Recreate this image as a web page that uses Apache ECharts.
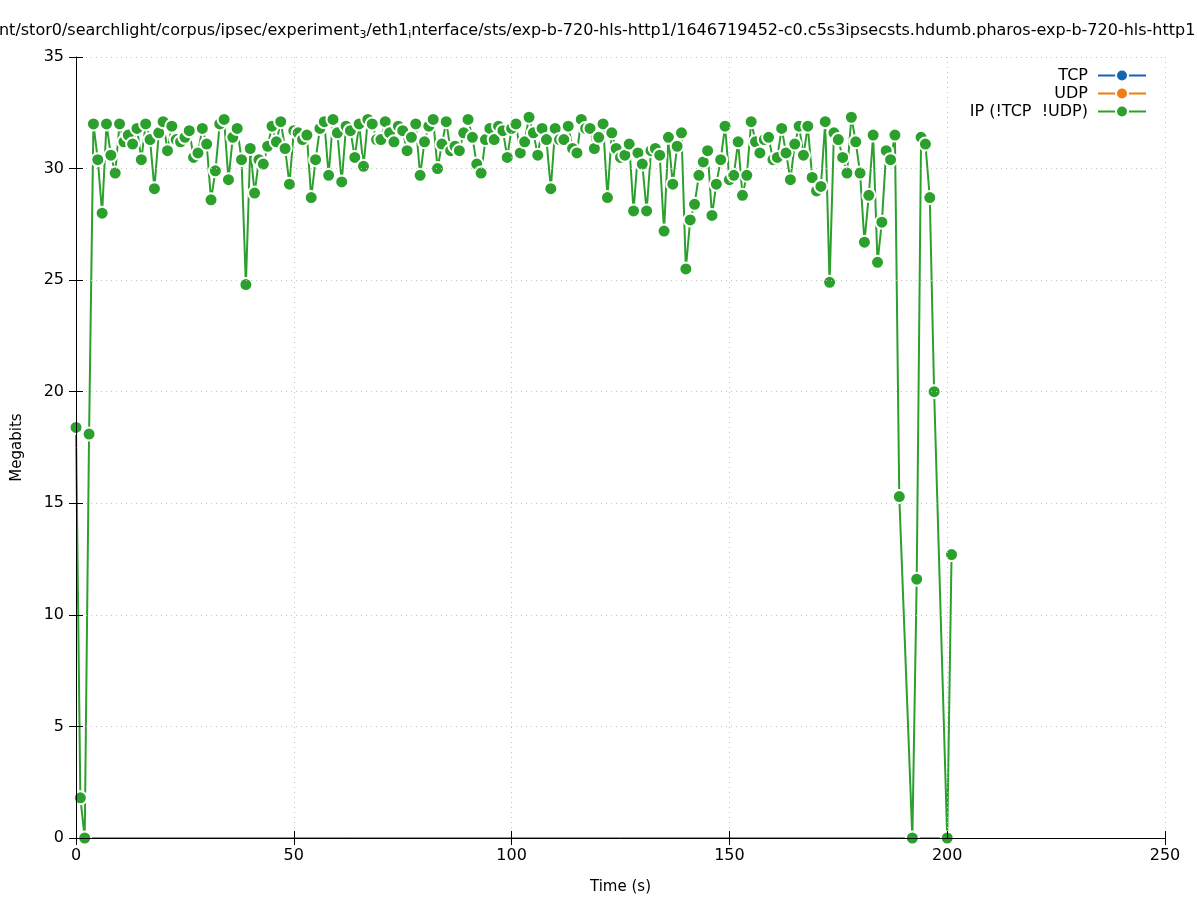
<!DOCTYPE html>
<html>
<head>
<meta charset="utf-8">
<script src="https://cdn.jsdelivr.net/npm/echarts@6/dist/echarts.min.js"></script>
<style>html,body{margin:0;padding:0;background:#fff;}#c{width:1197px;height:900px;}</style>
</head>
<body>
<div id="c"></div>
<script>
// seconds 0..201 — index of each value is the time (s); null = no sample
const ipValues = [
18.4,1.8,0,18.1,32.0,30.4,28.0,32.0,30.6,29.8,
32.0,31.2,31.5,31.1,31.8,30.4,32.0,31.3,29.1,31.6,
32.1,30.8,31.9,31.3,31.2,31.4,31.7,30.5,30.7,31.8,
31.1,28.6,29.9,32.0,32.2,29.5,31.4,31.8,30.4,24.8,
30.9,28.9,30.4,30.2,31.0,31.9,31.2,32.1,30.9,29.3,
31.7,31.6,31.3,31.5,28.7,30.4,31.8,32.1,29.7,32.2,
31.6,29.4,31.9,31.7,30.5,32.0,30.1,32.2,32.0,31.3,
31.3,32.1,31.6,31.2,31.9,31.7,30.8,31.4,32.0,29.7,
31.2,31.9,32.2,30.0,31.1,32.1,30.8,31.0,30.8,31.6,
32.2,31.4,30.2,29.8,31.3,31.8,31.3,31.9,31.7,30.5,
31.8,32.0,30.7,31.2,32.3,31.6,30.6,31.8,31.3,29.1,
31.8,31.3,31.3,31.9,30.9,30.7,32.2,31.8,31.8,30.9,
31.4,32.0,28.7,31.6,30.9,30.5,30.6,31.1,28.1,30.7,
30.2,28.1,30.8,30.9,30.6,27.2,31.4,29.3,31.0,31.6,
25.5,27.7,28.4,29.7,30.3,30.8,27.9,29.3,30.4,31.9,
29.5,29.7,31.2,28.8,29.7,32.1,31.2,30.7,31.3,31.4,
30.4,30.5,31.8,30.7,29.5,31.1,31.9,30.6,31.9,29.6,
29.0,29.2,32.1,24.9,31.6,31.3,30.5,29.8,32.3,31.2,
29.8,26.7,28.8,31.5,25.8,27.6,30.8,30.4,31.5,15.3,
null,null,0,11.6,31.4,31.1,28.7,20.0,null,null,
0,12.7
];
const tcpValues = [
0,0,0,0,0,0,0,0,0,0, 0,0,0,0,0,0,0,0,0,0, 0,0,0,0,0,0,0,0,0,0, 0,0,0,0,0,0,0,0,0,0,
0,0,0,0,0,0,0,0,0,0, 0,0,0,0,0,0,0,0,0,0, 0,0,0,0,0,0,0,0,0,0, 0,0,0,0,0,0,0,0,0,0,
0,0,0,0,0,0,0,0,0,0, 0,0,0,0,0,0,0,0,0,0, 0,0,0,0,0,0,0,0,0,0, 0,0,0,0,0,0,0,0,0,0,
0,0,0,0,0,0,0,0,0,0, 0,0,0,0,0,0,0,0,0,0, 0,0,0,0,0,0,0,0,0,0, 0,0,0,0,0,0,0,0,0,0,
0,0,0,0,0,0,0,0,0,0, 0,0,0,0,0,0,0,0,0,0, 0,0,0,0,0,0,0,0,0,0, 0,0,0,0,0,0,0,0,0,0,
0,0
];
const udpValues = [
0,0,0,0,0,0,0,0,0,0, 0,0,0,0,0,0,0,0,0,0, 0,0,0,0,0,0,0,0,0,0, 0,0,0,0,0,0,0,0,0,0,
0,0,0,0,0,0,0,0,0,0, 0,0,0,0,0,0,0,0,0,0, 0,0,0,0,0,0,0,0,0,0, 0,0,0,0,0,0,0,0,0,0,
0,0,0,0,0,0,0,0,0,0, 0,0,0,0,0,0,0,0,0,0, 0,0,0,0,0,0,0,0,0,0, 0,0,0,0,0,0,0,0,0,0,
0,0,0,0,0,0,0,0,0,0, 0,0,0,0,0,0,0,0,0,0, 0,0,0,0,0,0,0,0,0,0, 0,0,0,0,0,0,0,0,0,0,
0,0,0,0,0,0,0,0,0,0, 0,0,0,0,0,0,0,0,0,0, 0,0,0,0,0,0,0,0,0,0, 0,0,0,0,0,0,0,0,0,0,
0,0
];
const seriesNames = ['TCP', 'UDP', 'IP (!TCP  !UDP)'];
const xTicks = [0, 50, 100, 150, 200, 250];
const yTicks = [0, 5, 10, 15, 20, 25, 30, 35];

const pairs = arr => arr.map((v, i) => [i, v]);
const FONT = 'DejaVu Sans';
const colors = ['#1565b5', '#f07d10', '#2ca02c'];

const chart = echarts.init(document.getElementById('c'), null, {renderer: 'canvas'});
const gridLine = {show: true, lineStyle: {color: '#c4c4c4', type: [1, 4], width: 1}};
const tickIn = {show: true, inside: true, length: 7, lineStyle: {color: '#000', width: 1}};

function mkSeries(name, data, color, showSym, z) {
  return {
    name, type: 'line', data,
    xAxisIndex: 0, yAxisIndex: 0,
    symbol: 'circle', symbolSize: 13, showSymbol: showSym,
    connectNulls: true,
    lineStyle: {color, width: 2},
    itemStyle: {color, borderColor: '#fff', borderWidth: 2},
    emphasis: {disabled: true},
    animation: false, z, clip: false
  };
}

chart.setOption({
  animation: false,
  backgroundColor: '#fff',
  textStyle: {fontFamily: FONT},
  grid: {left: 76, right: 32, top: 57, bottom: 62, containLabel: false},
  graphic: [{
    type: 'text', left: -22, top: 23,
    style: {
      text: '/mnt/stor0/searchlight/corpus/ipsec/experiment{s|3}/eth1{s|i}nterface/sts/exp-b-720-hls-http1/1646719452-c0.c5s3ipsecsts.hdumb.pharos-exp-b-720-hls-http1.pcap',
      font: '16px "DejaVu Sans"', fill: '#000',
      rich: {s: {fontSize: 11, fontFamily: FONT, padding: [9, 0, 0, 0], fill: '#000', verticalAlign: 'bottom'}}
    }
  }],
  legend: {
    orient: 'vertical', right: 45, top: 62, align: 'right',
    itemWidth: 48, itemHeight: 15, itemGap: 1,
    textStyle: {fontFamily: FONT, fontSize: 16, color: '#000', padding: [0, 5, 0, 0], lineHeight: 17},
    selectedMode: false,
    data: seriesNames
  },
  xAxis: [{
    type: 'value', min: xTicks[0], max: xTicks[xTicks.length - 1], interval: 50,
    name: 'Time (s)', nameLocation: 'middle', nameGap: 42,
    nameTextStyle: {fontFamily: FONT, fontSize: 15, color: '#000'},
    axisLine: {show: true, onZero: false, lineStyle: {color: '#000', width: 1}},
    axisTick: tickIn,
    axisLabel: {fontFamily: FONT, fontSize: 16, color: '#000', margin: 10},
    splitLine: gridLine, z: 5
  }, {
    type: 'value', position: 'top', min: xTicks[0], max: xTicks[xTicks.length - 1], interval: 50,
    axisLine: {show: false}, axisTick: tickIn, axisLabel: {show: false}, splitLine: {show: false}
  }],
  yAxis: [{
    type: 'value', min: yTicks[0], max: yTicks[yTicks.length - 1], interval: 5,
    name: 'Megabits', nameLocation: 'middle', nameGap: 51, nameRotate: 90,
    nameTextStyle: {fontFamily: FONT, fontSize: 15, color: '#000'},
    axisLine: {show: true, onZero: false, lineStyle: {color: '#000', width: 1}},
    axisTick: tickIn,
    axisLabel: {fontFamily: FONT, fontSize: 16, color: '#000', margin: 12},
    splitLine: gridLine, z: 5
  }, {
    type: 'value', position: 'right', min: yTicks[0], max: yTicks[yTicks.length - 1], interval: 5,
    axisLine: {show: false}, axisTick: tickIn, axisLabel: {show: false}, splitLine: {show: false}
  }],
  series: [
    mkSeries(seriesNames[0], pairs(tcpValues), colors[0], false, 2),
    mkSeries(seriesNames[1], pairs(udpValues), colors[1], false, 3),
    mkSeries(seriesNames[2], pairs(ipValues), colors[2], true, 4)
  ]
});
</script>
</body>
</html>
